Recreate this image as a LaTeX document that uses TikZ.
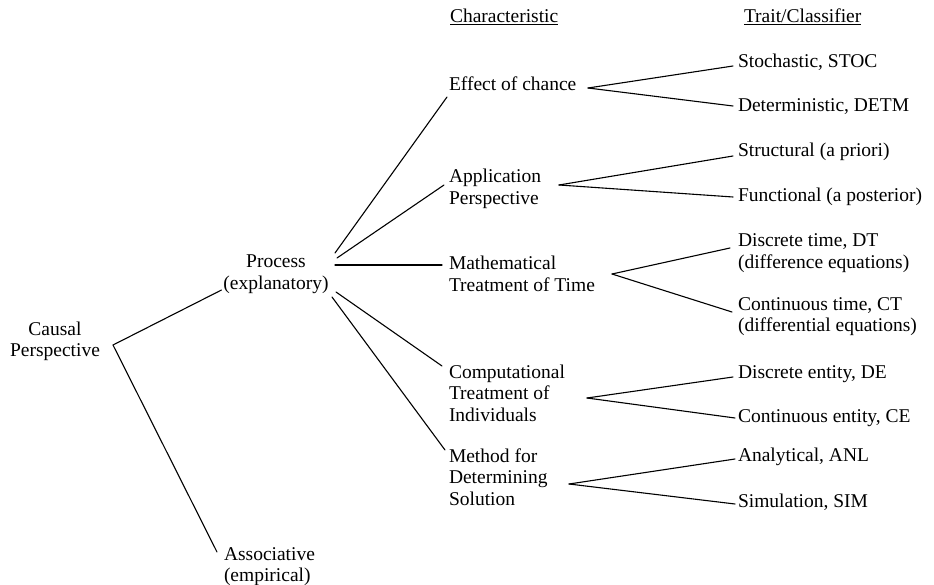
\documentclass[tikz,border=0pt]{standalone}
\usepackage{fontspec}
\setmainfont{Liberation Serif}
\newcommand\LinesL[1]{\begin{tabular}[t]{@{}l@{}}#1\end{tabular}}
\newcommand\LinesC[1]{\begin{tabular}[t]{@{}c@{}}#1\end{tabular}}
\begin{document}
\begin{tikzpicture}[x=1pt,y=-1pt,
  every node/.style={font=\fontsize{19.5}{21.5}\selectfont,inner sep=0pt,outer sep=0pt},
  lbl/.style={anchor=base west},
  ctr/.style={anchor=base},
  conn/.style={line width=1.1pt,line cap=round}]
\fill[white] (0,0) rectangle (934,585);
\useasboundingbox (0,0) rectangle (934,585);

% headers
\node[lbl] (hchar) at (450,23) {\underline{Characteristic}};
\node[lbl] (htrait) at (744,23) {\underline{Trait/Classifier}};

% left column
\node[ctr] (causal) at (55,335) {\LinesC{Causal\\Perspective}};
\node[ctr] (proc) at (276,268) {\LinesC{Process\\(explanatory)}};
\node[lbl] (assoc) at (224,560) {\LinesL{Associative\\(empirical)}};

% characteristics
\node[lbl] (eff) at (449,91) {Effect of chance};
\node[lbl] (app) at (449,183) {\LinesL{Application\\Perspective}};
\node[lbl] (math) at (449,270) {\LinesL{Mathematical\\Treatment of Time}};
\node[lbl] (comp) at (449,378) {\LinesL{Computational\\Treatment of\\Individuals}};
\node[lbl] (meth) at (449,462) {\LinesL{Method for\\Determining\\Solution}};

% traits
\node[lbl] (stoc) at (738,68) {Stochastic, STOC};
\node[lbl] (detm) at (738,112) {Deterministic, DETM};
\node[lbl] (struc) at (738,157) {Structural (a priori)};
\node[lbl] (func) at (738,202) {Functional (a posterior)};
\node[lbl] (dt) at (738,247) {\LinesL{Discrete time, DT\\(difference equations)}};
\node[lbl] (ct) at (738,310) {\LinesL{Continuous time, CT\\(differential equations)}};
\node[lbl] (de) at (738,378) {Discrete entity, DE};
\node[lbl] (ce) at (738,422) {Continuous entity, CE};
\node[lbl] (anl) at (738,461) {Analytical, ANL};
\node[lbl] (sim) at (738,507) {Simulation, SIM};

% junctions
\coordinate (jc) at (113,345);
\coordinate (je) at (588,88);
\coordinate (ja) at (559,185);
\coordinate (jm) at (612,274);
\coordinate (jcomp) at (587,398);
\coordinate (jmeth) at (569,484);
\coordinate (p1) at (335,253);
\coordinate (p2) at (337,258);
\coordinate (p3) at (335,265);
\coordinate (p4) at (336,292);
\coordinate (p5) at (332,297);

% connectors
\draw[conn] (jc) -- ([shift={(-2,22)}]proc.base west);
\draw[conn] (jc) -- ([shift={(-7,-8)}]assoc.base west);
\draw[conn] (p1) -- ([shift={(-2,6)}]eff.base west);
\draw[conn] (p2) -- ([shift={(-5,2)}]app.base west);
\draw[conn] (p3) -- ([shift={(-7,-5)}]math.base west);
\draw[conn] (p4) -- ([shift={(-7,-12)}]comp.base west);
\draw[conn] (p5) -- ([shift={(-4,-12)}]meth.base west);

\draw[conn] (je) -- ([shift={(-5,-2)}]stoc.base west);
\draw[conn] (je) -- ([shift={(-5,-6)}]detm.base west);
\draw[conn] (ja) -- ([shift={(-5,-1)}]struc.base west);
\draw[conn] (ja) -- ([shift={(-5,-5)}]func.base west);
\draw[conn] (jm) -- ([shift={(-8,1)}]dt.base west);
\draw[conn] (jm) -- ([shift={(-6,2)}]ct.base west);
\draw[conn] (jcomp) -- ([shift={(-5,-1)}]de.base west);
\draw[conn] (jcomp) -- ([shift={(-3,-4)}]ce.base west);
\draw[conn] (jmeth) -- ([shift={(-3,-2)}]anl.base west);
\draw[conn] (jmeth) -- ([shift={(-3,-3)}]sim.base west);
\end{tikzpicture}
\end{document}
